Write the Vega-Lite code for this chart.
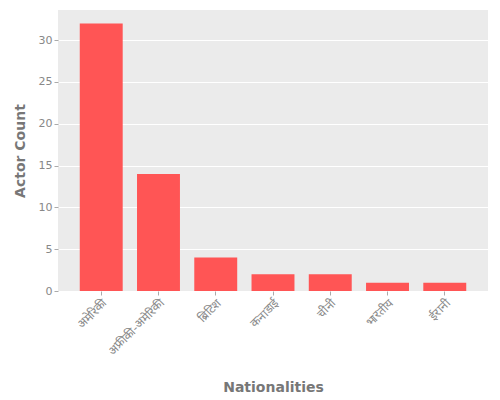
{
  "$schema": "https://vega.github.io/schema/vega-lite/v6.json",
  "autosize": {"type": "none"},
  "padding": {"left": 58, "top": 10, "right": 12, "bottom": 109},
  "width": 430,
  "height": 281,
  "background": "white",
  "data": {"values": [
    {"nationality": "अमेरिकी", "count": 32},
    {"nationality": "अफ्रीकी-अमेरिकी", "count": 14},
    {"nationality": "ब्रिटिश", "count": 4},
    {"nationality": "कनाडाई", "count": 2},
    {"nationality": "चीनी", "count": 2},
    {"nationality": "भारतीय", "count": 1},
    {"nationality": "ईरानी", "count": 1}
  ]},
  "config": {
    "view": {"fill": "#EBEBEB", "stroke": null},
    "font": "DejaVu Sans"
  },
  "mark": {"type": "bar", "color": "#FF5555"},
  "encoding": {
    "x": {
      "field": "nationality", "type": "nominal", "sort": null,
      "scale": {"paddingInner": 0.25, "paddingOuter": 0.38},
      "axis": {
        "title": "Nationalities", "labelAngle": -45, "labelColor": "#888888",
        "labelFontSize": 12, "titleColor": "#777777", "titleFontSize": 14,
        "titleFontWeight": "bold", "titlePadding": 24, "domain": false,
        "tickColor": "#AAAAAA", "tickSize": 4, "grid": false
      }
    },
    "y": {
      "field": "count", "type": "quantitative",
      "scale": {"domain": [0, 33.6], "nice": false},
      "axis": {
        "title": "Actor Count", "values": [0, 5, 10, 15, 20, 25, 30],
        "labelColor": "#888888", "labelFontSize": 11, "titleColor": "#777777",
        "titleFontSize": 14, "titleFontWeight": "bold", "titlePadding": 11,
        "domain": false, "tickColor": "#AAAAAA", "tickSize": 4,
        "gridColor": "white", "gridWidth": 1, "gridOpacity": 1
      }
    }
  }
}
